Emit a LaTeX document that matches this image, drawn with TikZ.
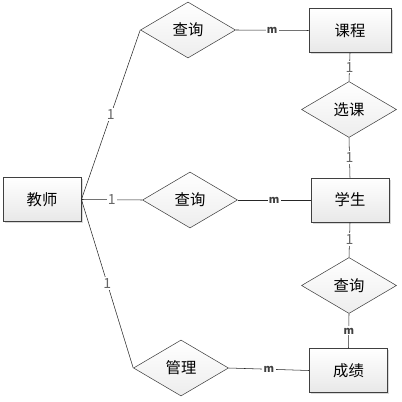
\documentclass[tikz,border=0pt]{standalone}
\usepackage{fontspec}
\setmainfont{Noto Sans CJK SC}
\usepackage{tikz}
\usetikzlibrary{shapes.geometric, shadows}

\begin{document}
\begin{tikzpicture}[x=0.75pt, y=-0.75pt,
      ent/.style={draw=black!75, semithick, top color=white, bottom color=black!9,
                  minimum width=78*0.75pt, minimum height=44*0.75pt, inner sep=0pt,
                  font=\fontsize{11.5}{13}\selectfont,
                  drop shadow={shadow xshift=1.2pt, shadow yshift=-1.2pt, fill=black!25, opacity=0.6}},
      rel/.style={diamond, draw=black!75, thin, top color=white, bottom color=black!7,
                  minimum width=95*0.75pt, minimum height=56*0.75pt, inner sep=0pt,
                  font=\fontsize{11.5}{13}\selectfont},
      lnk/.style={draw=black!85, thin},
      one/.style={fill=white, inner sep=1pt, text=black!60, font=\fontsize{10.5}{11}\selectfont},
      many/.style={fill=white, inner sep=1pt, text=black!75, font=\fontsize{8}{9}\selectfont\bfseries}
    ]

    \useasboundingbox (0,0) rectangle (401,402);

    %% ---- entities ----
    \node[ent] at (42,199.5)  (teacher) {教师};
    \node[ent, minimum width=82*0.75pt] at (350,30.5) (course) {课程};
    \node[ent] at (350,200)   (student) {学生};
    \node[ent] at (348.5,370.5) (grade) {成绩};

    %% ---- relations ----
    \node[rel] at (188,30)    (queryA) {查询};
    \node[rel] at (190,200)   (queryB) {查询};
    \node[rel] at (181,368)   (manage) {管理};
    \node[rel] at (349,109.5) (choose) {选课};
    \node[rel] at (349,285.5) (queryC) {查询};

    %% ---- teacher side ----
    \draw[lnk] (teacher.east) -- node[one] {1} (queryA.west);
    \draw[lnk] (teacher.east) -- node[one] {1} (queryB.west);
    \draw[lnk] (teacher.east) -- node[one] {1} (manage.west);

    %% ---- relation -> entity (m) ----
    \draw[lnk] (queryA.east) -- node[many] {m} (course.west);
    \draw[lnk] (queryB.east) -- node[many] {m} (student.west);
    \draw[lnk] (manage.east) -- node[many] {m} (grade.west);

    %% ---- right column ----
    \draw[lnk] (course.south)  -- node[one] {1} (choose.north);
    \draw[lnk] (choose.south)  -- node[one] {1} (student.north);
    \draw[lnk] (student.south) -- node[one] {1} (queryC.north);
    \draw[lnk] (queryC.south)  -- node[many] {m} (grade.north);

  \end{tikzpicture}
\end{document}
